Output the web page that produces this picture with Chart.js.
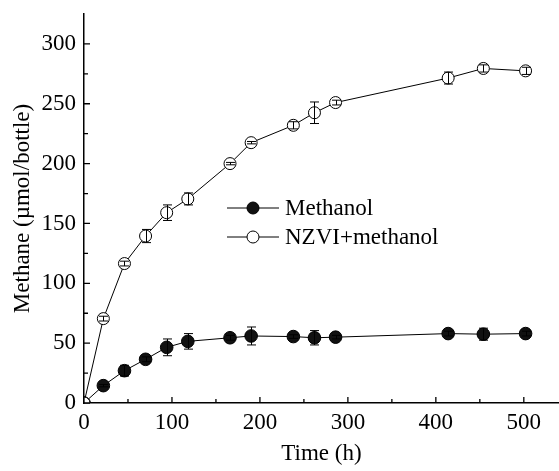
<!DOCTYPE html>
<html>
<head>
<meta charset="utf-8">
<script src="https://cdn.jsdelivr.net/npm/chart.js@4"></script>
<style>
  html, body { margin: 0; padding: 0; background: #fff; }
</style>
</head>
<body>
<canvas id="methaneChart" width="559" height="471"></canvas>
<script>
// sampling times (h)
const hours = [0, 22, 46, 70, 94, 118, 166, 190, 238, 262, 286, 414, 454, 502];

// methane, umol/bottle
const methanol = [0, 14.5, 27, 36.5, 46.5, 51.5, 54.5, 56, 55.5, 54.5, 55, 58, 57.5, 58];
const methanolErr = [0, 1, 4.5, 2, 7, 6.5, 2, 7.5, 1.5, 6, 1.5, 2, 5, 2];
const nzvi = [0, 70.5, 116.5, 139.5, 159, 170.5, 200, 217.5, 232, 242.5, 251, 271.5, 279.5, 277.5];
const nzviErr = [0, 2, 2, 5.5, 6.5, 5, 1, 1, 3, 9, 2, 5, 3, 3];

const seriesNames = ["Methanol", "NZVI+methanol"];

const xTicks = [0, 50, 100, 150, 200, 250, 300, 350, 400, 450, 500];
const yTicks = [0, 25, 50, 75, 100, 125, 150, 175, 200, 225, 250, 275, 300];

const FONT = "'Liberation Serif', 'Times New Roman', serif";
const fontSize = 23;

function toPoints(vals) {
  return hours.map((h, i) => ({ x: h, y: vals[i] }));
}

const errors = [methanolErr, nzviErr];

// error bars are drawn on top of the markers, like in the original plot
const errorBars = {
  id: "errorBars",
  afterDatasetsDraw(chart) {
    const { ctx, scales: { x, y } } = chart;
    ctx.save();
    ctx.strokeStyle = "#000";
    ctx.lineWidth = 1;
    chart.data.datasets.forEach(ds => {
      const err = errors[ds.errIndex];
      ds.data.forEach((p, i) => {
        const e = err[i];
        if (!e) return;
        const px = Math.round(x.getPixelForValue(p.x)) + 0.5;
        const top = y.getPixelForValue(p.y + e);
        const bot = y.getPixelForValue(p.y - e);
        ctx.beginPath();
        ctx.moveTo(px, top);
        ctx.lineTo(px, bot);
        ctx.moveTo(px - 4.5, top);
        ctx.lineTo(px + 4.5, top);
        ctx.moveTo(px - 4.5, bot);
        ctx.lineTo(px + 4.5, bot);
        ctx.stroke();
      });
    });
    ctx.restore();
  }
};

// tick marks pointing into the plot
const innerTicks = {
  id: "innerTicks",
  afterDraw(chart) {
    const { ctx, chartArea: a, scales: { x, y } } = chart;
    ctx.save();
    ctx.strokeStyle = "#000";
    ctx.lineWidth = 1.3;
    ctx.beginPath();
    x.ticks.forEach(t => {
      const px = x.getPixelForValue(t.value);
      const len = t.value % 100 === 0 ? 6 : 4;
      ctx.moveTo(px, a.bottom);
      ctx.lineTo(px, a.bottom - len);
    });
    y.ticks.forEach(t => {
      const py = y.getPixelForValue(t.value);
      const len = t.value % 50 === 0 ? 6 : 4;
      ctx.moveTo(a.left, py);
      ctx.lineTo(a.left + len, py);
    });
    ctx.stroke();
    ctx.restore();
  }
};

// legend inside the plot: line - marker - line, then the label
const innerLegend = {
  id: "innerLegend",
  afterDraw(chart) {
    const { ctx, chartArea: a } = chart;
    const x0 = a.left + 143;
    const rows = [a.top + 194, a.top + 223];
    ctx.save();
    ctx.font = fontSize + "px " + FONT;
    ctx.textBaseline = "middle";
    seriesNames.forEach((name, i) => {
      const ds = chart.data.datasets.find(d => d.label === name);
      const yy = rows[i];
      ctx.strokeStyle = "#000";
      ctx.lineWidth = 1;
      ctx.beginPath();
      ctx.moveTo(x0, yy);
      ctx.lineTo(x0 + 52, yy);
      ctx.stroke();
      ctx.beginPath();
      ctx.arc(x0 + 26, yy, 6, 0, Math.PI * 2);
      ctx.fillStyle = ds.pointBackgroundColor;
      ctx.fill();
      ctx.stroke();
      ctx.fillStyle = "#000";
      ctx.fillText(name, x0 + 58, yy + 1);
    });
    ctx.restore();
  }
};

new Chart(document.getElementById("methaneChart"), {
  type: "line",
  data: {
    datasets: [
      {
        label: "NZVI+methanol",
        data: toPoints(nzvi),
        errIndex: 1,
        order: 0,
        borderColor: "#000",
        borderWidth: 1,
        pointRadius: 6,
        pointBorderWidth: 1,
        pointBackgroundColor: "#fff",
        pointBorderColor: "#000",
        tension: 0
      },
      {
        label: "Methanol",
        data: toPoints(methanol),
        errIndex: 0,
        order: 1,
        borderColor: "#000",
        borderWidth: 1,
        pointRadius: 6.3,
        pointBorderWidth: 1,
        pointBackgroundColor: "#111",
        pointBorderColor: "#000",
        tension: 0
      }
    ]
  },
  options: {
    responsive: false,
    devicePixelRatio: 1,
    animation: false,
    layout: { autoPadding: false, padding: { top: 14, right: 0, left: 0, bottom: 0 } },
    plugins: {
      legend: { display: false },
      tooltip: { enabled: false }
    },
    scales: {
      x: {
        type: "linear",
        min: 0,
        max: 540,
        afterBuildTicks: s => { s.ticks = xTicks.map(v => ({ value: v })); },
        afterFit: s => {
          s.height = 68;
          s.paddingLeft = 0;
          s.paddingRight = 0;
        },
        grid: { display: false, drawTicks: false },
        border: { display: true, color: "#000", width: 1.5 },
        ticks: {
          autoSkip: false,
          maxRotation: 0,
          padding: 6,
          color: "#000",
          font: { family: FONT, size: fontSize },
          callback: v => (v % 100 === 0 ? v : "")
        },
        title: {
          display: true,
          text: "Time (h)",
          color: "#000",
          font: { family: FONT, size: fontSize },
          padding: { top: 0, bottom: 3 }
        }
      },
      y: {
        min: 0,
        max: 325,
        afterBuildTicks: s => { s.ticks = yTicks.map(v => ({ value: v })); },
        afterFit: s => {
          s.width = 84;
          s.paddingTop = 0;
          s.paddingBottom = 0;
        },
        grid: { display: false, drawTicks: false },
        border: { display: true, color: "#000", width: 1.5 },
        ticks: {
          autoSkip: false,
          padding: 8,
          color: "#000",
          font: { family: FONT, size: fontSize },
          callback: v => (v % 50 === 0 ? v : "")
        },
        title: {
          display: true,
          text: "Methane (µmol/bottle)",
          color: "#000",
          font: { family: FONT, size: fontSize },
          padding: { top: 9, bottom: 0 }
        }
      }
    }
  },
  plugins: [errorBars, innerTicks, innerLegend]
});
</script>
</body>
</html>
